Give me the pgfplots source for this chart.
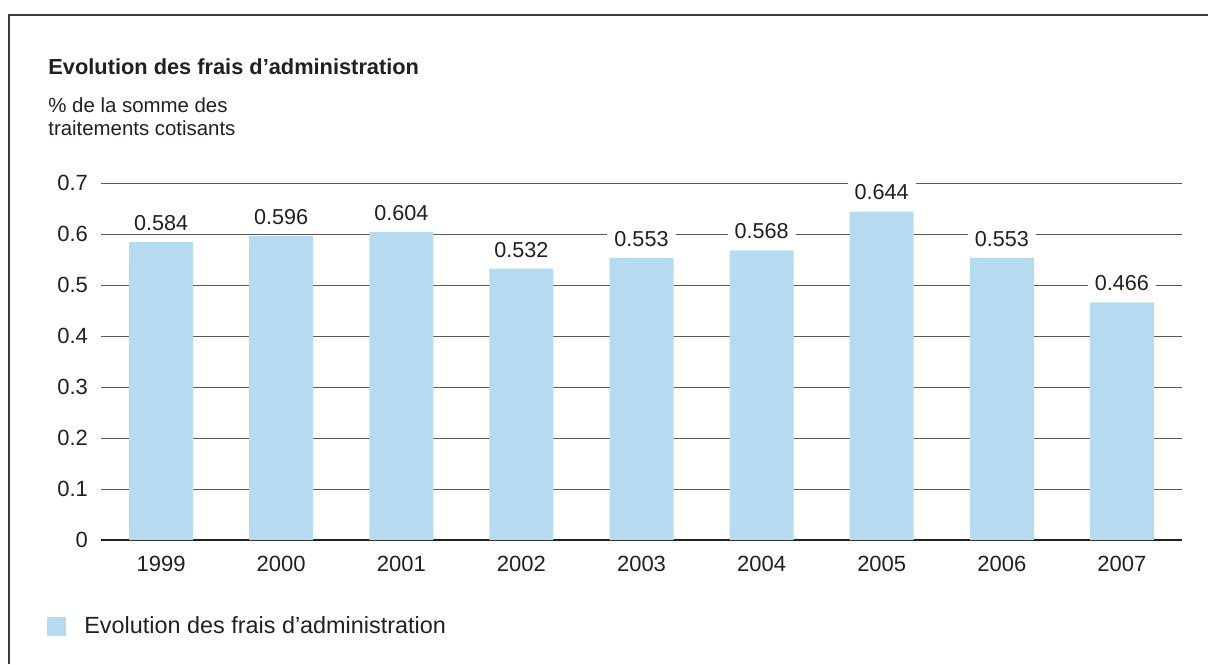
\documentclass[border=0pt]{standalone}
\usepackage{pgfplots}
\pgfplotsset{compat=1.18}
\usepackage{fontspec}
\setmainfont{Liberation Sans}
\definecolor{barblue}{RGB}{182,218,240}
\definecolor{framegray}{RGB}{60,60,60}
\definecolor{gridgray}{RGB}{90,90,90}
\definecolor{txt}{RGB}{35,31,32}
\begin{document}
\begin{tikzpicture}
\begin{axis}[
  name=ax,
  scale only axis, width=540.5pt, height=178.5pt,
  xmin=-0.5, xmax=8.5, ymin=0, ymax=0.7,
  ybar, bar width=32pt,
  axis lines*=left,
  x axis line style={txt,line width=1.35pt,-},
  y axis line style={draw=none},
  major tick length=0pt,
  ymajorgrids, grid style={gridgray,line width=0.5pt},
  xtick={0,...,8},
  xticklabels={1999,2000,2001,2002,2003,2004,2005,2006,2007},
  ytick={0,0.1,...,0.7},
  yticklabel style={/pgf/number format/fixed,/pgf/number format/precision=1,xshift=-3pt},
  xticklabel style={yshift=-4.5pt},
  /pgf/number format/assume math mode=true,
  tick label style={font=\fontsize{11}{13}\selectfont,text=txt},
  nodes near coords={\pgfmathprintnumber[fixed,precision=3,assume math mode=true]{\pgfplotspointmeta}},
  nodes near coords style={font=\fontsize{10.8}{12}\selectfont,text=txt,fill=white,inner xsep=3.5pt,inner ysep=1.5pt,anchor=south,yshift=4pt},
  legend style={at={(-0.05,-0.241)},anchor=west,draw=none,fill=none,inner sep=0pt,font=\fontsize{11.7}{13}\selectfont,text=txt,legend cell align=left,/tikz/every odd column/.append style={column sep=7pt}},
  legend image code/.code={\fill[barblue] (0pt,-4.75pt) rectangle (9.5pt,4.75pt);},
]
\addplot[fill=barblue,draw=none] coordinates {(0,0.584) (1,0.596) (2,0.604) (3,0.532) (4,0.553) (5,0.568) (6,0.644) (7,0.553) (8,0.466)};
\addlegendentry{Evolution des frais d’administration}
\coordinate (O) at (rel axis cs:0,0);
\end{axis}
\pgfresetboundingbox
\begin{scope}[shift={(O)},xshift=-50.5pt,yshift=-62pt,x=1pt,y=1pt]
\useasboundingbox (0,0) rectangle (604,332);
\draw[framegray,line width=1pt] (4.75,0) -- (4.75,324.5) -- (604,324.5);
\node[anchor=west,inner sep=0pt,font=\fontsize{10.9}{12}\selectfont\bfseries,text=txt] at (24,298.5) {Evolution des frais d’administration};
\node[anchor=north west,inner sep=0pt,align=left,font=\fontsize{10.2}{11.5}\selectfont,text=txt] at (24,283.5) {\% de la somme des\\traitements cotisants};
\end{scope}
\end{tikzpicture}
\end{document}
